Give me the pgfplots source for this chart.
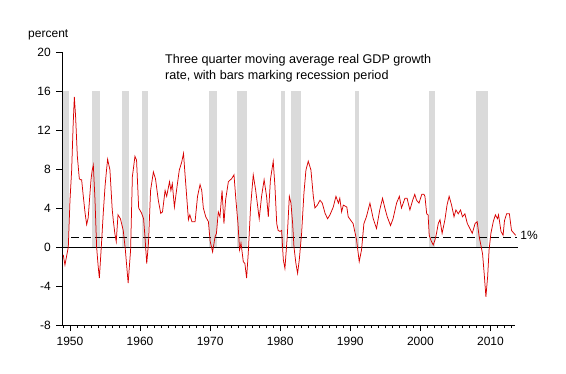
\documentclass[border=0pt]{standalone}
\usepackage{pgfplots}
\pgfplotsset{compat=1.18}
\usepackage{fontspec}
\setmainfont{Liberation Sans}
\definecolor{linered}{RGB}{215,0,0}
\definecolor{recgray}{RGB}{218,218,218}
\begin{document}
\fontsize{12bp}{14bp}\selectfont
\begin{tikzpicture}
\useasboundingbox (-62bp,-49bp) rectangle (504bp,325bp);
\begin{axis}[
  at={(0,0)}, anchor=south west,
  scale only axis, width=453bp, height=273bp,
  xmin=1948.86, xmax=2013.5, ymin=-8, ymax=20,
  axis x line*=bottom, axis y line*=left,
  axis line style={black, line width=0.8bp},
  clip=false,
  xtick={1950,1960,1970,1980,1990,2000,2010},
  xticklabels={1950,1960,1970,1980,1990,2000,2010},
  minor xtick={1949,1951,1952,1953,1954,1955,1956,1957,1958,1959,1961,1962,1963,1964,1965,1966,1967,1968,1969,1971,1972,1973,1974,1975,1976,1977,1978,1979,1981,1982,1983,1984,1985,1986,1987,1988,1989,1991,1992,1993,1994,1995,1996,1997,1998,1999,2001,2002,2003,2004,2005,2006,2007,2008,2009,2011,2012,2013},
  ytick={-8,-4,0,4,8,12,16,20},
  yticklabels={-8,-4,0,4,8,12,16,20},
  tick align=outside,
  major tick length=6bp, minor tick length=3bp,
  tick style={black, line width=0.7bp},
  xticklabel style={font=\fontsize{12bp}{14bp}\selectfont, yshift=-2bp},
  yticklabel style={font=\fontsize{12bp}{14bp}\selectfont, xshift=-1bp},
]
% recession bars
\addplot[fill=recgray, draw=none] coordinates {(1948.96,0) (1948.96,16) (1949.86,16) (1949.86,0)} -- cycle;
\addplot[fill=recgray, draw=none] coordinates {(1953.09,0) (1953.09,16) (1954.28,16) (1954.28,0)} -- cycle;
\addplot[fill=recgray, draw=none] coordinates {(1957.46,0) (1957.46,16) (1958.42,16) (1958.42,0)} -- cycle;
\addplot[fill=recgray, draw=none] coordinates {(1960.27,0) (1960.27,16) (1961.17,16) (1961.17,0)} -- cycle;
\addplot[fill=recgray, draw=none] coordinates {(1969.83,0) (1969.83,16) (1970.92,16) (1970.92,0)} -- cycle;
\addplot[fill=recgray, draw=none] coordinates {(1973.82,0) (1973.82,16) (1975.20,16) (1975.20,0)} -- cycle;
\addplot[fill=recgray, draw=none] coordinates {(1980.14,0) (1980.14,16) (1980.62,16) (1980.62,0)} -- cycle;
\addplot[fill=recgray, draw=none] coordinates {(1981.53,0) (1981.53,16) (1982.95,16) (1982.95,0)} -- cycle;
\addplot[fill=recgray, draw=none] coordinates {(1990.66,0) (1990.66,16) (1991.23,16) (1991.23,0)} -- cycle;
\addplot[fill=recgray, draw=none] coordinates {(2001.21,0) (2001.21,16) (2002.07,16) (2002.07,0)} -- cycle;
\addplot[fill=recgray, draw=none] coordinates {(2007.92,0) (2007.92,16) (2009.58,16) (2009.58,0)} -- cycle;
% reference lines
\addplot[black, line width=0.8bp] coordinates {(1948.86,0) (2013.9,0)};
\addplot[black, line width=0.8bp, dash pattern=on 8bp off 4bp] coordinates {(1950.2,1) (2013.8,1)};
% GDP growth
\addplot[linered, line width=0.75bp] coordinates {
(1949.04,-0.8) (1949.28,-1.85) (1949.5,-1.0) (1949.76,0.0) (1950.0,4.8) (1950.24,7.9) (1950.45,12.5) (1950.62,15.4) (1950.8,13.4)
(1951.05,9.3) (1951.33,7.0) (1951.5,6.9) (1951.66,6.9) (1951.9,5.2) (1952.15,3.5) (1952.38,2.3) (1952.6,3.0) (1952.8,5.0)
(1953.0,6.9) (1953.15,7.8) (1953.33,8.4) (1953.57,4.8) (1953.8,0.0) (1954.0,-1.8) (1954.19,-3.2) (1954.5,0.4) (1954.75,3.5)
(1955.0,6.2) (1955.2,7.8) (1955.37,9.0) (1955.7,7.9) (1956.03,3.8) (1956.2,2.6) (1956.4,1.4) (1956.6,0.55) (1956.85,3.3)
(1957.2,2.9) (1957.6,1.7) (1957.9,-0.3) (1958.1,-2.0) (1958.3,-3.7) (1958.65,-0.3) (1958.9,7.2) (1959.27,9.3) (1959.5,8.9)
(1959.8,4.0) (1960.2,3.5) (1960.5,2.9) (1960.7,1.05) (1960.95,-1.7) (1961.2,0.4) (1961.5,5.8) (1961.9,7.7) (1962.2,7.0)
(1962.6,4.8) (1962.95,3.45) (1963.2,3.6) (1963.57,5.8) (1963.8,5.2) (1964.2,6.7) (1964.4,5.8) (1964.6,6.5) (1964.9,4.1)
(1965.2,5.8) (1965.6,7.9) (1965.94,8.7) (1966.2,9.6) (1966.4,7.6) (1966.65,5.2) (1966.9,2.8) (1967.1,3.3) (1967.4,2.6)
(1967.85,2.6) (1968.2,5.2) (1968.56,6.4) (1968.8,5.8) (1969.03,4.0) (1969.37,3.1) (1969.75,2.6) (1970.0,0.6) (1970.35,-0.5)
(1970.7,1.05) (1970.9,1.4) (1971.16,3.6) (1971.4,3.1) (1971.7,5.8) (1971.97,2.4) (1972.2,4.8) (1972.6,6.7) (1973.06,7.0)
(1973.4,7.4) (1973.68,4.8) (1973.97,2.4) (1974.2,-0.3) (1974.4,0.4) (1974.73,-1.5) (1974.96,-1.7) (1975.2,-3.2) (1975.44,-0.6)
(1975.77,4.1) (1976.15,7.4) (1976.5,5.8) (1977.0,2.9) (1977.34,5.2) (1977.7,6.9) (1978.05,5.2) (1978.3,3.1) (1978.6,6.9)
(1979.0,8.8) (1979.24,6.3) (1979.5,2.4) (1979.7,1.7) (1979.96,1.6) (1980.2,1.7) (1980.44,-1.3) (1980.67,-2.2) (1981.0,1.05)
(1981.3,5.2) (1981.53,4.5) (1981.77,2.4) (1981.96,0.0) (1982.24,-1.7) (1982.48,-2.7) (1982.72,-1.3) (1983.05,1.4) (1983.38,5.5)
(1983.67,7.9) (1984.0,8.8) (1984.38,7.9) (1984.72,5.2) (1984.95,4.0) (1985.3,4.3) (1985.67,4.8) (1986.0,4.5) (1986.4,3.45)
(1986.76,2.9) (1987.1,3.3) (1987.57,4.1) (1987.95,5.2) (1988.3,4.5) (1988.5,5.0) (1988.76,3.6) (1989.0,4.3) (1989.5,4.1)
(1989.7,3.1) (1990.1,2.7) (1990.4,2.4) (1990.9,0.7) (1991.27,-1.5) (1991.6,-0.3) (1991.94,2.4) (1992.3,3.1) (1992.8,4.5)
(1993.27,2.9) (1993.74,1.9) (1994.2,3.8) (1994.6,5.0) (1994.93,4.0) (1995.27,3.1) (1995.74,2.2) (1996.1,2.9) (1996.6,4.5)
(1997.0,5.2) (1997.3,4.0) (1997.8,5.0) (1998.1,5.0) (1998.5,3.8) (1998.9,4.8) (1999.2,5.4) (1999.45,4.8) (1999.8,4.5)
(2000.2,5.4) (2000.5,5.4) (2000.65,5.2) (2000.9,3.4) (2001.1,3.3) (2001.26,1.2) (2001.5,0.7) (2001.83,0.2) (2002.07,0.7)
(2002.3,1.4) (2002.55,2.4) (2002.8,2.8) (2003.1,1.4) (2003.5,2.8) (2003.8,4.3) (2004.1,5.2) (2004.45,4.3) (2004.8,3.1)
(2005.07,3.8) (2005.4,3.4) (2005.73,3.8) (2006.0,3.1) (2006.35,3.4) (2006.7,2.4) (2007.06,1.9) (2007.4,1.4) (2007.8,2.4)
(2008.1,2.6) (2008.4,1.0) (2008.6,0.3) (2008.87,-0.7) (2009.1,-2.7) (2009.35,-5.1) (2009.6,-3.0) (2009.8,-0.3) (2010.06,1.4)
(2010.4,2.6) (2010.7,3.3) (2011.0,2.9) (2011.15,3.3) (2011.5,1.6) (2011.8,1.2) (2012.0,2.7) (2012.3,3.4) (2012.7,3.4)
(2013.0,1.7) (2013.35,1.4) (2013.6,1.2)
};
% annotations
\node[anchor=west, inner sep=0pt] at (axis cs:2014.25,1.15) {1\%};
\node[anchor=center, inner sep=0pt] at (axis cs:1946.9,21.75) {percent};
\node[anchor=north west, inner sep=0pt, align=left, font=\fontsize{12.6bp}{16bp}\selectfont] at (axis cs:1963.55,19.8) {Three quarter moving average real GDP growth\\rate, with bars marking recession period};
\end{axis}
\end{tikzpicture}
\end{document}
